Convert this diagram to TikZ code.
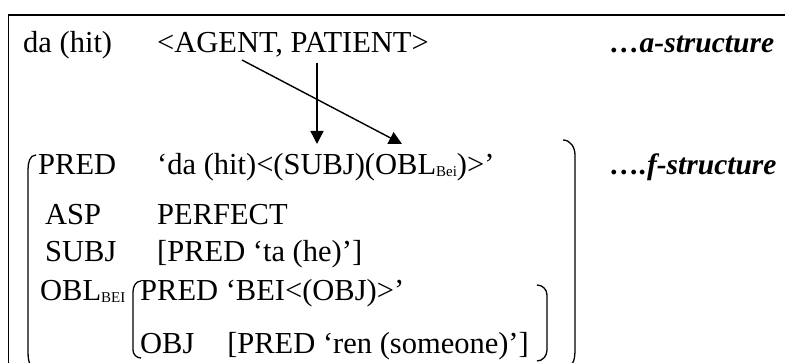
\documentclass[tikz,border=0pt]{standalone}
\usepackage{fontspec}
\setmainfont{Liberation Serif}
\usetikzlibrary{arrows.meta}

\tikzset{
  txt/.style={anchor=base west, inner sep=0pt, font=\fontsize{30.5}{36}\selectfont},
  lvl/.style={txt, font=\fontsize{29.5}{36}\selectfont\bfseries\itshape},
  link/.style={line width=1.4pt, -{Triangle[length=13pt,width=13pt]}},
  brack/.style={line width=1.3pt},
}
% small lowered subscript, as in OBL_Bei
\newcommand{\lowsub}[1]{\raisebox{-2pt}{\fontsize{15}{15}\selectfont #1}}

\begin{document}
\begin{tikzpicture}[x=1pt, y=-1pt]
  \useasboundingbox (0,0) rectangle (785,363);
  \clip (0,0) rectangle (785,363);

  % frame (only top and left edges show)
  \draw[line width=1.6pt] (8.5,400) -- (8.5,15) -- (800,15);

  % a-structure
  \node[txt] (verb) at (23,53) {da (hit)};
  \node[txt] (args) at (157,53) {<AGENT, PATIENT>};
  \node[lvl] (alevel) at (610,53) {…a-structure};

  % f-structure
  \node[txt] (pred) at (38,175) {PRED};
  \node[txt] (predval) at (157,175) {‘da (hit)<(SUBJ)(OBL\lowsub{Bei})>’};
  \node[lvl] (flevel) at (610,175) {….f-structure};

  \node[txt] (asp) at (45,225) {ASP};
  \node[txt] (aspval) at (157,225) {PERFECT};

  \node[txt] (subj) at (45,262) {SUBJ};
  \node[txt] (subjval) at (157,262) {[PRED ‘ta (he)’]};

  \node[txt] (obl) at (40,301) {OBL\lowsub{BEI}};
  \node[txt] (oblpred) at (140,301) {PRED ‘BEI<(OBJ)>’};
  \node[txt] (obj) at (140,354) {OBJ};
  \node[txt, anchor=base east] (objval) at (529,354) {[PRED ‘ren (someone)’]};

  % mapping arrows
  \coordinate (agent) at (242,60);
  \coordinate (patient) at (317,63);
  \coordinate (subjslot) at (317,144);
  \coordinate (oblslot) at (402,144);
  \draw[link] (agent) -- (oblslot);
  \draw[link] (patient) -- (subjslot);

  % brackets
  \draw[brack] (36,155) to[out=180,in=90] (28,170) -- (28,350) to[out=-90,in=180] (36,368);
  \draw[brack] (563,140) to[out=0,in=90] (575,155) -- (575,352) to[out=-90,in=0] (565,368);
  \draw[brack] (141,281) to[out=180,in=90] (133,292) -- (133,350) to[out=-90,in=180] (141,358);
  \draw[brack] (537,285) to[out=0,in=90] (547,295) -- (547,350) to[out=-90,in=0] (537,361);
\end{tikzpicture}
\end{document}
